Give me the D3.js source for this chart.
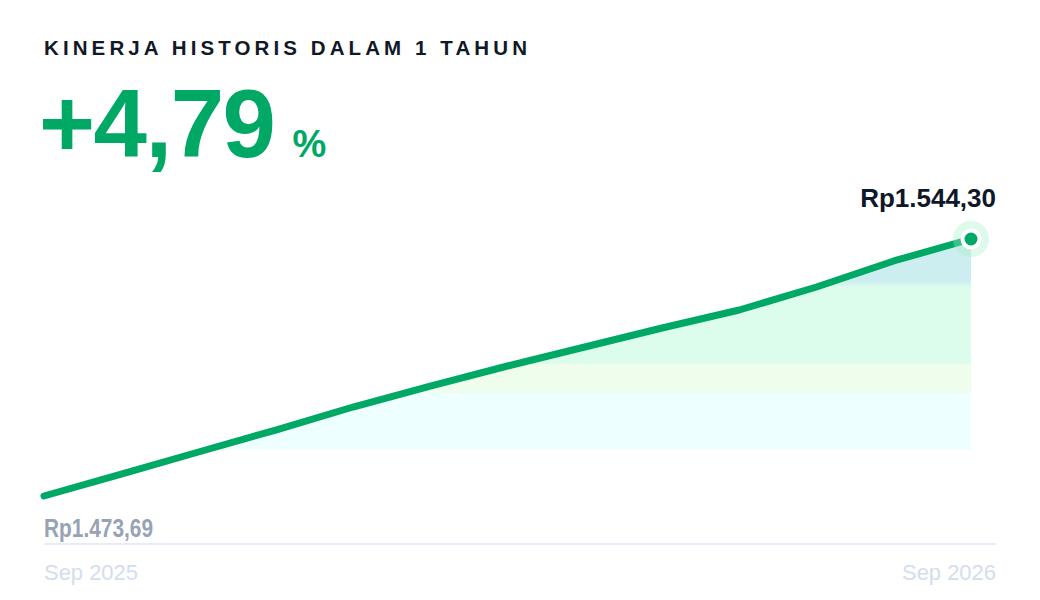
<!doctype html>
<html>
<head>
  <meta charset="utf-8">
  <title>Kinerja Historis</title>
  <style>
    body { margin: 0; background: #fff; }
    svg { display: block; font-family: "Liberation Sans", Arial, sans-serif; }
  </style>
</head>
<body>
  <div id="vis"></div>

  <script src="https://cdn.jsdelivr.net/npm/d3@7"></script>
  <script>

    // monthly NAV, Sep 2025 .. Sep 2026
    var months = ["2025-09", "2025-10", "2025-11", "2025-12", "2026-01", "2026-02", "2026-03",
                  "2026-04", "2026-05", "2026-06", "2026-07", "2026-08", "2026-09"];
    var prices = [1473.69, 1479.73, 1485.78, 1491.82, 1498.14, 1503.91, 1509.41,
                  1514.63, 1519.85, 1524.79, 1531.11, 1538.26, 1544.30];
    var axisLabels = ["Sep 2025", "Sep 2026"];
    var title = "KINERJA HISTORIS DALAM 1 TAHUN";
    var change = "+4,79";

    var w = 1040, h = 600;
    var green = "#00a866";

    var parse = d3.timeParse("%Y-%m");
    var data = months.map(function(m, i){
      return { date: parse(m), value: prices[i] };
    });

    var svg = d3.select("#vis").append("svg")
                .attr("width", w)
                .attr("height", h);

    // evenly spaced months
    var x = d3.scalePoint()
              .domain(months)
              .range([44, 971]);

    var y = d3.scaleLinear()
              .domain([prices[0], prices[prices.length - 1]])
              .range([496, 239]);

    // fill goes down to this level only
    var fillBase = 1486.3;

    var defs = svg.append("defs");
    var grad = defs.append("linearGradient")
                   .attr("id", "fillGrad")
                   .attr("gradientUnits", "userSpaceOnUse")
                   .attr("x1", 0).attr("x2", 0)
                   .attr("y1", y(prices[prices.length - 1])).attr("y2", y(fillBase));
    var stops = [
      [0, "#cdeef0"], [0.2, "#cdeef0"], [0.23, "#dcfdec"], [0.59, "#dcfdec"],
      [0.59, "#eefdec"], [0.73, "#eefdec"], [0.73, "#edffff"], [1, "#edffff"]
    ];
    stops.forEach(function(s){
      grad.append("stop").attr("offset", s[0]).attr("stop-color", s[1]);
    });

    defs.append("clipPath").attr("id", "fillClip")
        .append("rect")
        .attr("x", 0).attr("y", 0)
        .attr("width", w).attr("height", y(fillBase));

    var area = d3.area()
                 .x(function(d, i){ return x(months[i]); })
                 .y0(y(fillBase))
                 .y1(function(d){ return y(d.value); });

    svg.append("path")
       .datum(data)
       .attr("d", area)
       .attr("fill", "url(#fillGrad)")
       .attr("clip-path", "url(#fillClip)");

    // baseline
    svg.append("line")
       .attr("x1", 44).attr("x2", 996)
       .attr("y1", 544).attr("y2", 544)
       .attr("stroke", "#e9ecf8")
       .attr("stroke-width", 2);

    var line = d3.line()
                 .x(function(d, i){ return x(months[i]); })
                 .y(function(d){ return y(d.value); });

    svg.append("path")
       .datum(data)
       .attr("d", line)
       .attr("fill", "none")
       .attr("stroke", green)
       .attr("stroke-width", 7)
       .attr("stroke-linecap", "round")
       .attr("stroke-linejoin", "round");

    // end marker
    var last = data[data.length - 1];
    var lx = x(months[months.length - 1]), ly = y(last.value);
    svg.append("circle").attr("cx", lx).attr("cy", ly).attr("r", 18)
       .attr("fill", "#9ff0c6").attr("opacity", 0.35);
    svg.append("circle").attr("cx", lx).attr("cy", ly).attr("r", 10.5)
       .attr("fill", "#fff");
    svg.append("circle").attr("cx", lx).attr("cy", ly).attr("r", 6.5)
       .attr("fill", green);

    var fmt = d3.formatLocale({ decimal: ",", thousands: ".", grouping: [3], currency: ["Rp", ""] })
                .format("$,.2f");

    svg.append("text")
       .attr("x", 996).attr("y", 207)
       .attr("text-anchor", "end")
       .attr("font-size", 26).attr("font-weight", "bold")
       .attr("fill", "#0f172a")
       .text(fmt(last.value));

    svg.append("text")
       .attr("x", 44).attr("y", 537)
       .attr("font-size", 25).attr("font-weight", "bold")
       .attr("textLength", 109).attr("lengthAdjust", "spacingAndGlyphs")
       .attr("fill", "#97a3b4")
       .text(fmt(data[0].value));

    svg.append("text")
       .attr("x", 44).attr("y", 580)
       .attr("font-size", 22)
       .attr("textLength", 94).attr("lengthAdjust", "spacingAndGlyphs")
       .attr("fill", "#d3ddee")
       .text(axisLabels[0]);

    svg.append("text")
       .attr("x", 902).attr("y", 580)
       .attr("font-size", 22)
       .attr("textLength", 94).attr("lengthAdjust", "spacingAndGlyphs")
       .attr("fill", "#d3ddee")
       .text(axisLabels[1]);

    // header
    svg.append("text")
       .attr("x", 44).attr("y", 55)
       .attr("font-size", 20.5).attr("font-weight", "bold")
       .attr("letter-spacing", 4.1)
       .attr("fill", "#111827")
       .text(title);

    var big = svg.append("text")
       .attr("x", 39).attr("y", 157)
       .attr("font-weight", "bold")
       .attr("fill", green);
    big.append("tspan")
       .attr("font-size", 96)
       .attr("letter-spacing", -1.5)
       .text(change);
    big.append("tspan")
       .attr("font-size", 38)
       .attr("dx", 18)
       .text("%");

  </script>
</body>
</html>
